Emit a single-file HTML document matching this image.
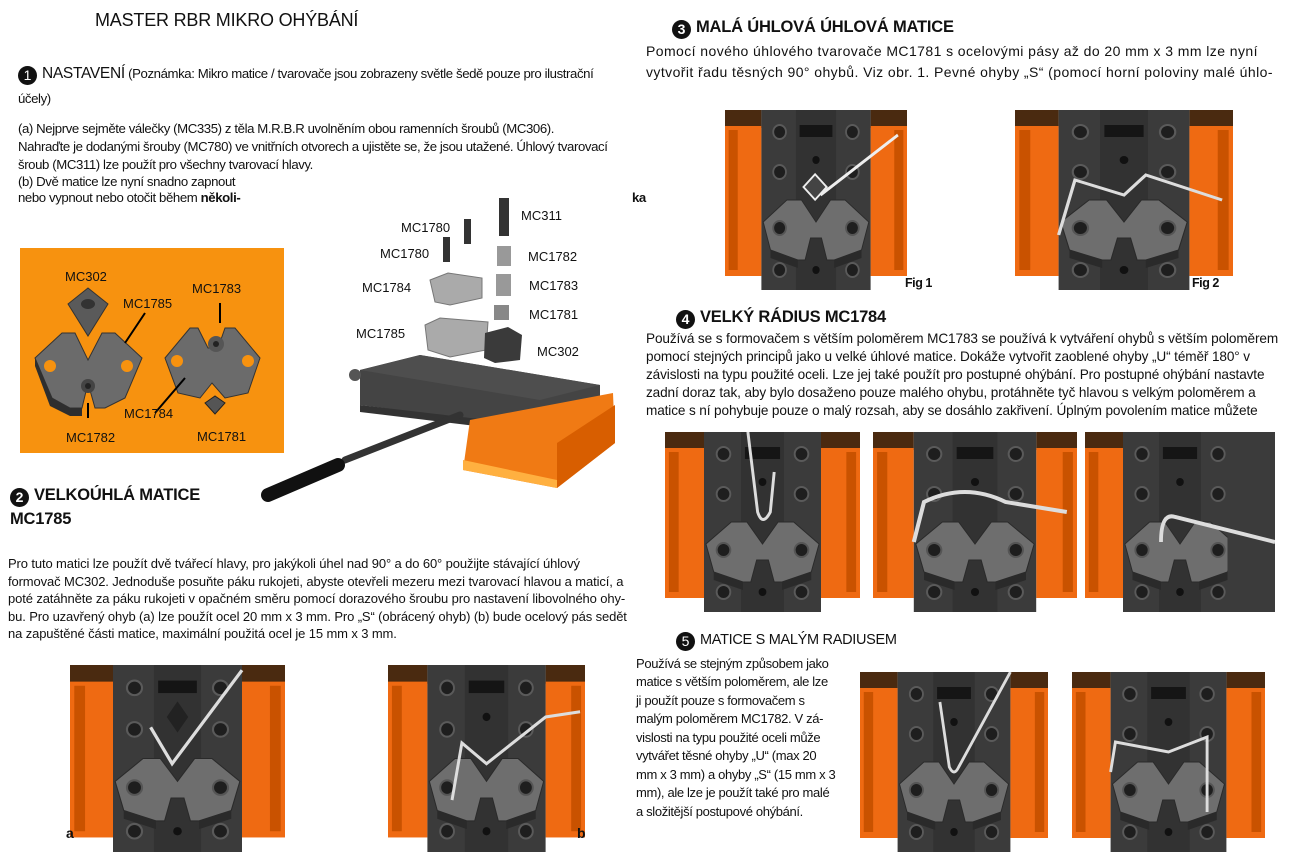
<!DOCTYPE html>
<html><head><meta charset="utf-8"><style>
body{margin:0;width:1296px;height:856px;background:#fff;position:relative;overflow:hidden;font-family:"Liberation Sans",sans-serif;color:#111}
.t{position:absolute;white-space:nowrap;font-size:12.5px;letter-spacing:-0.45px;line-height:15px}
.s1{font-size:13.2px;letter-spacing:-0.4px}
.s2{font-size:13px;letter-spacing:-0.12px}
.r{font-size:13.6px;letter-spacing:-0.12px}
.r3{font-size:14px;letter-spacing:0.42px}
.h{position:absolute;white-space:nowrap;font-size:16.5px;font-weight:bold;letter-spacing:-0.2px}
.n{display:inline-block;width:19px;height:19px;border-radius:50%;background:#111;color:#fff;text-align:center;line-height:19px;font-size:14px;margin-right:5px;vertical-align:-2px;letter-spacing:0}
svg{position:absolute}
</style></head><body>

<div class="t" style="left:95px;top:10px;font-size:18px;letter-spacing:-0.2px;line-height:20px">MASTER RBR MIKRO OHÝBÁNÍ</div>
<div class="t s1" style="left:18px;top:66px"><span class="n">1</span><b style="font-size:15.5px;font-weight:normal;letter-spacing:-0.3px">NASTAVENÍ</b> (Poznámka: Mikro matice / tvarovače jsou zobrazeny světle šedě pouze pro ilustrační</div>
<div class="t s1" style="left:18px;top:91px">účely)</div>
<div class="t s1" style="left:18px;top:121px">(a) Nejprve sejměte válečky (MC335) z těla M.R.B.R uvolněním obou ramenních šroubů (MC306).</div>
<div class="t s1" style="left:18px;top:139px">Nahraďte je dodanými šrouby (MC780) ve vnitřních otvorech a ujistěte se, že jsou utažené. Úhlový tvarovací</div>
<div class="t s1" style="left:18px;top:157px">šroub (MC311) lze použít pro všechny tvarovací hlavy.</div>
<div class="t s1" style="left:18px;top:174px">(b) Dvě matice lze nyní snadno zapnout</div>
<div class="t s1" style="left:18px;top:190px">nebo vypnout nebo otočit během <b>několi-</b></div>
<div class="t s1" style="left:632px;top:190px"><b>ka</b></div>

<!-- orange box -->
<svg style="left:20px;top:248px" width="264" height="205" viewBox="0 0 264 205">
<rect width="264" height="205" fill="#f7920f"/>
<polygon points="48,56 68,40 88,56 68,88" fill="#5a5a5a" stroke="#333"/><ellipse cx="68" cy="56" rx="7" ry="5" fill="#333"/>
<polygon points="15,110 42,85 55,85 68,112 82,85 95,85 122,110 105,150 85,160 75,160 68,135 62,160 50,160 32,150" fill="#6b6b6b" stroke="#333"/>
<polygon points="15,110 32,150 50,160 62,160 62,168 50,168 30,158 15,118" fill="#2e2e2e"/>
<circle cx="30" cy="118" r="6" fill="#f7920f"/><circle cx="107" cy="118" r="6" fill="#f7920f"/>
<circle cx="68" cy="138" r="7" fill="#444"/><circle cx="68" cy="138" r="3" fill="#222"/>
<polygon points="145,110 170,80 178,80 188,100 198,100 205,80 215,80 240,110 228,145 205,150 192,135 180,150 158,145" fill="#6b6b6b" stroke="#333"/>
<circle cx="196" cy="96" r="8" fill="#555"/><circle cx="196" cy="96" r="3" fill="#222"/>
<circle cx="157" cy="113" r="6" fill="#f7920f"/><circle cx="228" cy="113" r="6" fill="#f7920f"/>
<polygon points="185,155 195,148 205,155 195,166" fill="#555" stroke="#222"/>
<line x1="125" y1="65" x2="105" y2="95" stroke="#000" stroke-width="2"/>
<line x1="200" y1="55" x2="200" y2="75" stroke="#000" stroke-width="2"/>
<line x1="68" y1="170" x2="68" y2="155" stroke="#000" stroke-width="2"/>
<line x1="135" y1="165" x2="165" y2="130" stroke="#000" stroke-width="2"/>
<g font-size="13" font-family="Liberation Sans" fill="#111">
<text x="45" y="33">MC302</text><text x="103" y="60">MC1785</text><text x="172" y="45">MC1783</text>
<text x="104" y="170">MC1784</text><text x="46" y="194">MC1782</text><text x="177" y="193">MC1781</text></g>
</svg>

<!-- exploded vise -->
<svg style="left:250px;top:190px" width="400" height="320" viewBox="0 0 400 320">
<rect x="249" y="8" width="10" height="38" fill="#333"/>
<rect x="214" y="29" width="7" height="25" fill="#333"/>
<rect x="193" y="47" width="7" height="25" fill="#333"/>
<rect x="247" y="56" width="14" height="20" fill="#999"/>
<polygon points="180,90 198,83 232,88 232,108 200,115 185,112" fill="#aaa" stroke="#777"/>
<rect x="246" y="84" width="15" height="22" fill="#999"/>
<rect x="244" y="115" width="15" height="15" fill="#888"/>
<polygon points="175,135 190,128 238,132 236,160 200,167 178,160" fill="#aaa" stroke="#777"/>
<polygon points="235,143 258,137 272,145 270,170 245,173 234,168" fill="#3a3a3a"/>
<polygon points="110,180 170,165 350,195 350,235 300,240 110,215" fill="#444"/>
<polygon points="110,180 170,165 350,195 290,210" fill="#4e4e4e"/>
<polygon points="110,215 280,235 350,232 350,240 300,245 110,222" fill="#333"/>
<circle cx="105" cy="185" r="6" fill="#555"/>
<polygon points="220,230 363,203 365,253 307,298 213,280" fill="#f07a14"/>
<polygon points="213,270 307,290 307,298 213,280" fill="#ffb040"/>
<polygon points="307,253 365,215 365,253 307,298" fill="#d85e00"/>
<line x1="95" y1="270" x2="210" y2="225" stroke="#333" stroke-width="7" stroke-linecap="round"/>
<line x1="18" y1="305" x2="88" y2="275" stroke="#111" stroke-width="14" stroke-linecap="round"/>
<g font-family="Liberation Sans" font-size="13" fill="#111">
<text x="271" y="30">MC311</text><text x="151" y="42">MC1780</text><text x="130" y="68">MC1780</text>
<text x="278" y="71">MC1782</text><text x="112" y="102">MC1784</text><text x="279" y="100">MC1783</text>
<text x="279" y="129">MC1781</text><text x="106" y="148">MC1785</text><text x="287" y="166">MC302</text>
</g></svg>

<div class="h" style="left:10px;top:486px"><span class="n">2</span>VELKOÚHLÁ MATICE</div>
<div class="h" style="left:10px;top:510px">MC1785</div>
<div class="t s2" style="left:8px;top:556px">Pro tuto matici lze použít dvě tvářecí hlavy, pro jakýkoli úhel nad 90° a do 60° použijte stávající úhlový</div>
<div class="t s2" style="left:8px;top:574px">formovač MC302. Jednoduše posuňte páku rukojeti, abyste otevřeli mezeru mezi tvarovací hlavou a maticí, a</div>
<div class="t s2" style="left:8px;top:591px">poté zatáhněte za páku rukojeti v opačném směru pomocí dorazového šroubu pro nastavení libovolného ohy-</div>
<div class="t s2" style="left:8px;top:609px">bu. Pro uzavřený ohyb (a) lze použít ocel 20 mm x 3 mm. Pro „S“ (obrácený ohyb) (b) bude ocelový pás sedět</div>
<div class="t s2" style="left:8px;top:626px">na zapuštěné části matice, maximální použitá ocel je 15 mm x 3 mm.</div>

<!-- Section 3 -->
<div class="h" style="left:672px;top:18px"><span class="n">3</span>MALÁ ÚHLOVÁ ÚHLOVÁ MATICE</div>
<div class="t r3" style="left:646px;top:44px">Pomocí nového úhlového tvarovače MC1781 s ocelovými pásy až do 20 mm x 3 mm lze nyní</div>
<div class="t r3" style="left:646px;top:65px">vytvořit řadu těsných 90° ohybů. Viz obr. 1. Pevné ohyby „S“ (pomocí horní poloviny malé úhlo-</div>

<div class="h" style="left:676px;top:308px"><span class="n">4</span>VELKÝ RÁDIUS MC1784</div>
<div class="t r" style="left:646px;top:331px">Používá se s formovačem s větším poloměrem MC1783 se používá k vytváření ohybů s větším poloměrem</div>
<div class="t r" style="left:646px;top:349px">pomocí stejných principů jako u velké úhlové matice. Dokáže vytvořit zaoblené ohyby „U“ téměř 180° v</div>
<div class="t r" style="left:646px;top:367px">závislosti na typu použité oceli. Lze jej také použít pro postupné ohýbání. Pro postupné ohýbání nastavte</div>
<div class="t r" style="left:646px;top:385px">zadní doraz tak, aby bylo dosaženo pouze malého ohybu, protáhněte tyč hlavou s velkým poloměrem a</div>
<div class="t r" style="left:646px;top:403px">matice s ní pohybuje pouze o malý rozsah, aby se dosáhlo zakřivení. Úplným povolením matice můžete</div>

<div class="t" style="left:676px;top:631px;font-size:14.5px;letter-spacing:-0.3px;line-height:18px"><span class="n">5</span>MATICE S MALÝM RADIUSEM</div>
<div class="t" style="left:636px;top:656px;font-size:13px;letter-spacing:-0.35px">Používá se stejným způsobem jako</div>
<div class="t" style="left:636px;top:674px;font-size:13px;letter-spacing:-0.35px">matice s větším poloměrem, ale lze</div>
<div class="t" style="left:636px;top:693px;font-size:13px;letter-spacing:-0.35px">ji použít pouze s formovačem s</div>
<div class="t" style="left:636px;top:711px;font-size:13px;letter-spacing:-0.35px">malým poloměrem MC1782. V zá-</div>
<div class="t" style="left:636px;top:730px;font-size:13px;letter-spacing:-0.35px">vislosti na typu použité oceli může</div>
<div class="t" style="left:636px;top:748px;font-size:13px;letter-spacing:-0.35px">vytvářet těsné ohyby „U“ (max 20</div>
<div class="t" style="left:636px;top:767px;font-size:13px;letter-spacing:-0.35px">mm x 3 mm) a ohyby „S“ (15 mm x 3</div>
<div class="t" style="left:636px;top:785px;font-size:13px;letter-spacing:-0.35px">mm), ale lze je použít také pro malé</div>
<div class="t" style="left:636px;top:804px;font-size:13px;letter-spacing:-0.35px">a složitější postupové ohýbání.</div>

<!-- photos -->
<svg width="0" height="0"><defs>
<g id="ph">
<rect x="0" y="0" width="40" height="18" fill="#4a2a10"/><rect x="160" y="0" width="40" height="18" fill="#4a2a10"/>
<rect x="0" y="16" width="40" height="150" fill="#ef6a12"/><rect x="4" y="20" width="10" height="140" fill="#c95200"/>
<rect x="160" y="16" width="40" height="150" fill="#ef6a12"/><rect x="186" y="20" width="10" height="140" fill="#c95200"/>
<rect x="40" y="0" width="120" height="180" fill="#3b3b3b"/>
<rect x="78" y="0" width="44" height="180" fill="#323232"/>
<rect x="82" y="15" width="36" height="12" fill="#151515"/>
<g fill="#1e1e1e" stroke="#5a5a5a" stroke-width="2"><circle cx="60" cy="22" r="7"/><circle cx="140" cy="22" r="7"/><circle cx="60" cy="62" r="7"/><circle cx="140" cy="62" r="7"/><circle cx="60" cy="160" r="7"/><circle cx="140" cy="160" r="7"/></g>
<circle cx="100" cy="50" r="4" fill="#111"/><circle cx="100" cy="160" r="4" fill="#111"/>
<polygon points="42,112 68,90 84,90 100,112 116,90 132,90 158,112 150,140 120,150 112,150 106,128 94,128 88,150 80,150 50,140" fill="#6e6e6e" stroke="#2a2a2a"/>
<polygon points="50,140 80,150 80,158 50,148" fill="#2a2a2a"/><polygon points="120,150 150,140 150,148 120,158" fill="#2a2a2a"/>
<g fill="#1e1e1e" stroke="#555" stroke-width="2"><circle cx="60" cy="118" r="7"/><circle cx="140" cy="118" r="7"/></g>
</g></defs></svg>

<svg style="left:725px;top:110px" width="182" height="180" viewBox="0 0 200 180" preserveAspectRatio="none"><use href="#ph"/><rect x="90" y="68" width="18" height="18" fill="#444" stroke="#eee" stroke-width="2" transform="rotate(45 99 77)"/><line x1="105" y1="85" x2="190" y2="25" stroke="#eee" stroke-width="3"/></svg>
<div class="t" style="left:905px;top:276px;font-weight:bold">Fig 1</div>
<svg style="left:1015px;top:110px" width="218" height="180" viewBox="0 0 200 180" preserveAspectRatio="none"><use href="#ph"/><polyline points="40,125 55,70 100,85 120,65 190,90" fill="none" stroke="#ddd" stroke-width="3"/></svg>
<div class="t" style="left:1192px;top:276px;font-weight:bold">Fig 2</div>

<svg style="left:665px;top:432px" width="195" height="180" viewBox="0 0 200 180" preserveAspectRatio="none"><use href="#ph"/><path d="M85,0 L95,80 Q100,95 108,80 L112,40" fill="none" stroke="#ddd" stroke-width="3"/></svg>
<svg style="left:873px;top:432px" width="204" height="180" viewBox="0 0 200 180" preserveAspectRatio="none"><use href="#ph"/><path d="M40,110 L50,70 Q90,50 130,70 L190,80" fill="none" stroke="#ddd" stroke-width="4"/></svg>
<svg style="left:1085px;top:432px" width="190" height="180" viewBox="0 0 200 180" preserveAspectRatio="none"><use href="#ph"/><rect x="150" y="0" width="50" height="180" fill="#3b3b3b"/><path d="M80,110 Q80,80 95,85 L200,110" fill="none" stroke="#ddd" stroke-width="4"/></svg>

<svg style="left:860px;top:672px" width="188" height="180" viewBox="0 0 200 180" preserveAspectRatio="none"><use href="#ph"/><path d="M85,30 L95,95 Q100,105 105,95 L160,0" fill="none" stroke="#ddd" stroke-width="3"/></svg>
<svg style="left:1072px;top:672px" width="193" height="180" viewBox="0 0 200 180" preserveAspectRatio="none"><use href="#ph"/><path d="M40,100 L45,70 L100,80 L140,65 L140,140" fill="none" stroke="#ddd" stroke-width="3"/></svg>

<svg style="left:70px;top:665px" width="215" height="187" viewBox="0 0 200 180" preserveAspectRatio="none"><use href="#ph"/><polygon points="90,50 100,35 110,50 100,65" fill="#222"/><path d="M75,60 L95,95 L160,5" fill="none" stroke="#ddd" stroke-width="3"/></svg>
<div class="t" style="left:66px;top:826px;font-weight:bold;font-size:14px">a</div>
<svg style="left:388px;top:665px" width="197" height="187" viewBox="0 0 200 180" preserveAspectRatio="none"><use href="#ph"/><polyline points="65,130 75,75 100,95 160,50 195,45" fill="none" stroke="#ddd" stroke-width="3"/></svg>
<div class="t" style="left:577px;top:826px;font-weight:bold;font-size:14px">b</div>

</body></html>
